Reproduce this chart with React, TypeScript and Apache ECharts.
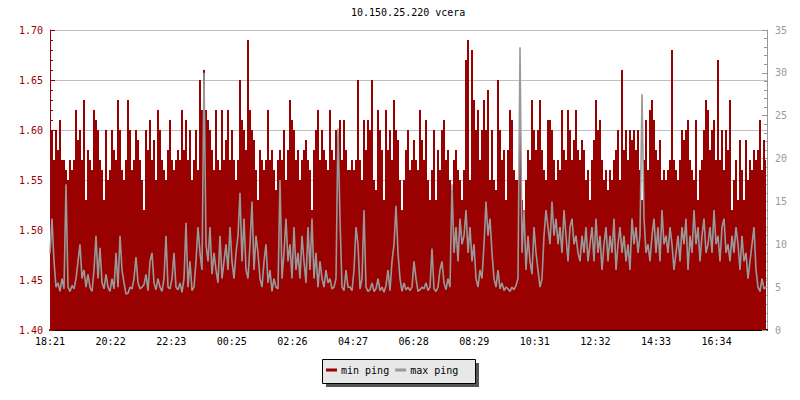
import React, { useEffect, useRef } from "react";
import * as echarts from "echarts";

// x-axis tick labels (one every ~121.2 minutes starting at 18:21)
const xTicks = ["18:21", "20:22", "22:23", "00:25", "02:26", "04:27", "06:28", "08:29", "10:31", "12:32", "14:33", "16:34"];
const tickIntervalMin = 121.2;
const spanMin = 1434;
const sampleStepMin = 4;

// min ping (left axis)
const minPing = [
  1.61, 1.60, 1.57, 1.60, 1.58, 1.61, 1.57, 1.57, 1.56, 1.55, 1.57, 1.56, 1.57, 1.62, 1.59, 1.60, 1.57, 1.63, 1.53, 1.58, 1.57, 1.56, 1.62, 1.61, 1.60, 1.57, 1.56, 1.53, 1.60, 1.55,
  1.56, 1.60, 1.58, 1.57, 1.63, 1.60, 1.56, 1.55, 1.57, 1.63, 1.60, 1.56, 1.57, 1.60, 1.59, 1.57, 1.55, 1.52, 1.60, 1.58, 1.61, 1.57, 1.59, 1.55, 1.62, 1.60, 1.57, 1.56, 1.55, 1.58,
  1.61, 1.57, 1.56, 1.57, 1.58, 1.57, 1.62, 1.58, 1.61, 1.57, 1.60, 1.55, 1.57, 1.60, 1.56, 1.65, 1.62, 1.66, 1.62, 1.61, 1.60, 1.58, 1.56, 1.62, 1.57, 1.56, 1.62, 1.57, 1.59, 1.62,
  1.57, 1.60, 1.57, 1.55, 1.57, 1.65, 1.61, 1.60, 1.58, 1.69, 1.62, 1.60, 1.59, 1.56, 1.53, 1.58, 1.57, 1.56, 1.57, 1.62, 1.57, 1.58, 1.56, 1.54, 1.57, 1.58, 1.57, 1.60, 1.55, 1.58,
  1.63, 1.61, 1.60, 1.57, 1.58, 1.55, 1.57, 1.58, 1.59, 1.57, 1.56, 1.52, 1.58, 1.60, 1.62, 1.57, 1.60, 1.58, 1.57, 1.56, 1.62, 1.58, 1.57, 1.60, 1.57, 1.61, 1.57, 1.61, 1.58, 1.56,
  1.56, 1.57, 1.56, 1.57, 1.65, 1.57, 1.55, 1.61, 1.58, 1.61, 1.60, 1.65, 1.55, 1.54, 1.62, 1.60, 1.58, 1.53, 1.62, 1.58, 1.60, 1.57, 1.63, 1.60, 1.59, 1.55, 1.52, 1.55, 1.58, 1.60,
  1.56, 1.57, 1.59, 1.57, 1.56, 1.62, 1.59, 1.57, 1.61, 1.55, 1.53, 1.56, 1.60, 1.53, 1.58, 1.56, 1.60, 1.61, 1.57, 1.58, 1.55, 1.54, 1.57, 1.58, 1.56, 1.55, 1.53, 1.56, 1.67, 1.69,
  1.55, 1.68, 1.63, 1.60, 1.62, 1.57, 1.60, 1.63, 1.60, 1.64, 1.55, 1.60, 1.55, 1.54, 1.65, 1.60, 1.57, 1.58, 1.53, 1.58, 1.62, 1.61, 1.56, 1.55, 1.55, 1.61, 1.53, 1.52, 1.55, 1.58,
  1.57, 1.63, 1.60, 1.58, 1.60, 1.63, 1.58, 1.56, 1.55, 1.61, 1.61, 1.60, 1.57, 1.55, 1.57, 1.56, 1.62, 1.58, 1.57, 1.62, 1.60, 1.57, 1.59, 1.62, 1.58, 1.57, 1.59, 1.58, 1.55, 1.56,
  1.53, 1.57, 1.59, 1.63, 1.60, 1.61, 1.57, 1.55, 1.56, 1.54, 1.56, 1.55, 1.57, 1.58, 1.60, 1.55, 1.66, 1.58, 1.60, 1.57, 1.60, 1.59, 1.60, 1.58, 1.60, 1.56, 1.53, 1.57, 1.61, 1.56,
  1.62, 1.63, 1.61, 1.58, 1.57, 1.59, 1.55, 1.56, 1.55, 1.56, 1.57, 1.68, 1.57, 1.56, 1.55, 1.57, 1.60, 1.59, 1.60, 1.61, 1.57, 1.56, 1.55, 1.61, 1.53, 1.56, 1.57, 1.60, 1.63, 1.62,
  1.58, 1.60, 1.61, 1.57, 1.67, 1.57, 1.60, 1.56, 1.60, 1.58, 1.63, 1.52, 1.55, 1.57, 1.53, 1.59, 1.56, 1.53, 1.59, 1.55, 1.57, 1.56, 1.58, 1.57, 1.58, 1.61, 1.56, 1.59, 1.57,
];

// max ping (right axis)
const maxPing = [
  9, 13, 8, 5, 5.5, 4.5, 6, 4.8, 17, 5, 4.5, 5.2, 4.8, 6, 8, 10, 6, 7, 5, 6.5, 5, 4.5, 7, 11, 6, 9.6, 5.5, 4.8, 6.5, 5,
  4.5, 6, 4.8, 9, 5, 11, 7, 5.5, 4.2, 4.3, 5, 4.8, 6, 8.5, 5.5, 4.8, 5, 5.3, 6.5, 4.6, 8, 9, 5.5, 4.7, 6, 5, 4.5, 6, 11, 5,
  4.8, 6, 9, 5, 4.7, 5.5, 4.4, 6, 12.5, 5, 8, 4.6, 5, 8, 12, 9, 7, 30, 10, 8, 12, 6.5, 9, 7, 5.5, 11, 6, 8, 10, 7,
  12, 8, 6, 9, 11, 16, 8, 13, 7, 6, 10, 15, 7, 11, 9, 6, 5, 8, 10, 5.5, 7, 4.5, 6, 5, 4.8, 17.5, 6, 9, 13, 8,
  10, 6, 12, 7, 9, 6, 11, 8, 5.5, 12, 7, 13, 6, 9, 5, 8, 6, 5, 7, 5.5, 6, 4.8, 5, 6, 23.5, 13, 5, 4.6, 7, 5,
  5, 4.6, 7, 12, 10, 4.8, 6, 14, 5, 4.5, 4.7, 5.5, 4.5, 4.8, 6, 4.6, 5, 4.4, 5.2, 7, 4.6, 8, 10, 14.5, 9, 6, 4.5, 5.5, 4.7, 5,
  4.6, 5, 8, 6, 4.5, 4.7, 5, 4.8, 5.5, 4.6, 5, 9.5, 4.8, 4.5, 5, 7, 8, 5.5, 4.7, 6, 5, 17, 9, 12, 8, 13, 10, 11, 14, 9,
  12, 8, 10, 6, 5, 7, 6, 10, 15, 11, 13, 9, 6, 5, 7, 4.8, 5.5, 4.6, 5, 4.8, 4.5, 5, 4.7, 5.2, 6, 33, 9, 14, 7, 11,
  8, 6.5, 12, 9, 7, 5, 6, 11, 14, 12, 10, 15, 11, 13, 10, 12, 9, 14, 11, 8, 12, 13, 10, 11, 9, 8, 11, 9, 12, 8,
  10, 12, 8, 13, 9, 11, 7, 10, 12, 8, 11, 9, 13, 7, 10, 12, 9, 11, 8, 10, 7, 13, 10, 12, 9, 11, 27.5, 13, 9, 10,
  8, 11, 13, 9, 12, 8, 14, 10, 11, 9, 12, 10, 7, 9, 11, 8, 12, 10, 13, 7, 11, 9, 14, 10, 12, 8, 11, 13, 9, 10,
  12, 9, 14, 10, 11, 8, 12, 13, 9, 10, 8, 11, 9, 12, 10, 7, 11, 8, 9, 6, 8, 10, 12, 7, 5, 4.5, 6, 4.8, 5,
];

const FONT = "DejaVu Sans Mono";
const RED = "#990000";
const GRAY = "#999999";

export default function App() {
  const ref = useRef<HTMLDivElement>(null);
  useEffect(() => {
    if (!ref.current) return;
    const chart = echarts.init(ref.current, undefined, { renderer: "svg" });
    const redData = minPing.map((v, i) => [i * sampleStepMin, v]);
    const grayData = maxPing.map((v, i) => [i * sampleStepMin, v]);
    chart.setOption({
      animation: false,
      backgroundColor: "#ffffff",
      title: {
        text: "10.150.25.220 vcera",
        left: 351,
        top: 7,
        padding: 0,
        textStyle: { fontFamily: FONT, fontSize: 10, fontWeight: "normal", color: "#000" },
      },
      grid: { left: 50, right: 33, top: 30, bottom: 70, containLabel: false },
      graphic: [
        { type: "rect", z: 1, shape: { x: 326, y: 363, width: 153, height: 24 }, style: { fill: "#555555" } },
        { type: "rect", z: 2, shape: { x: 322.5, y: 359.5, width: 153, height: 24 }, style: { fill: "#e8e8e8", stroke: "#000", lineWidth: 1 } },
      ],
      legend: {
        left: 326,
        top: 365,
        padding: 0,
        itemWidth: 11,
        itemHeight: 3,
        itemGap: 6,
        icon: "rect",
        textStyle: { fontFamily: FONT, fontSize: 10, color: "#000", padding: [0, 0, 0, -1] },
        data: [
          { name: "min ping", itemStyle: { color: RED } },
          { name: "max ping", itemStyle: { color: GRAY } },
        ],
      },
      xAxis: {
        type: "value",
        min: 0,
        max: spanMin,
        interval: tickIntervalMin,
        axisLine: { show: true, lineStyle: { color: "#000", width: 2 } },
        axisTick: { show: true, inside: true, length: 5, lineStyle: { color: "#000" } },
        axisLabel: {
          fontFamily: FONT,
          fontSize: 10,
          color: "#000",
          margin: 6,
          showMaxLabel: false,
          formatter: (v: number) => {
            const k = Math.round(v / tickIntervalMin);
            return Math.abs(k * tickIntervalMin - v) < 0.01 && xTicks[k] ? xTicks[k] : "";
          },
        },
        splitLine: { show: false },
      },
      yAxis: [
        {
          type: "value",
          min: 1.4,
          max: 1.7,
          interval: 0.05,
          position: "left",
          axisLine: { show: true, lineStyle: { color: RED, width: 1 } },
          axisTick: { show: true, inside: true, length: 5, lineStyle: { color: RED } },
          minorTick: { show: true, splitNumber: 5, length: 3, lineStyle: { color: RED } },
          axisLabel: {
            fontFamily: FONT,
            fontSize: 10,
            color: RED,
            margin: 7,
            formatter: (v: number) => v.toFixed(2),
          },
          splitLine: { show: true, lineStyle: { color: "#c0c0c0", width: 1 } },
        },
        {
          type: "value",
          min: 0,
          max: 35,
          interval: 5,
          position: "right",
          axisLine: { show: true, lineStyle: { color: GRAY, width: 1 } },
          axisTick: { show: true, inside: true, length: 5, lineStyle: { color: GRAY } },
          minorTick: { show: true, splitNumber: 5, length: 3, lineStyle: { color: GRAY } },
          axisLabel: { fontFamily: FONT, fontSize: 10, color: GRAY, margin: 8 },
          splitLine: { show: false },
        },
      ],
      series: [
        {
          name: "min ping",
          type: "line",
          yAxisIndex: 0,
          data: redData,
          step: "middle",
          showSymbol: false,
          symbol: "none",
          lineStyle: { width: 0, color: RED },
          itemStyle: { color: RED },
          areaStyle: { color: RED, opacity: 1, origin: "start" },
          z: 2,
        },
        {
          name: "max ping",
          type: "line",
          yAxisIndex: 1,
          data: grayData,
          showSymbol: false,
          symbol: "none",
          lineStyle: { width: 1.6, color: GRAY },
          itemStyle: { color: GRAY },
          z: 3,
        },
      ],
    });
    return () => chart.dispose();
  }, []);
  return (
    <div
      ref={ref}
      style={{ position: "fixed", left: 0, top: 0, width: 800, height: 400 }}
    />
  );
}
